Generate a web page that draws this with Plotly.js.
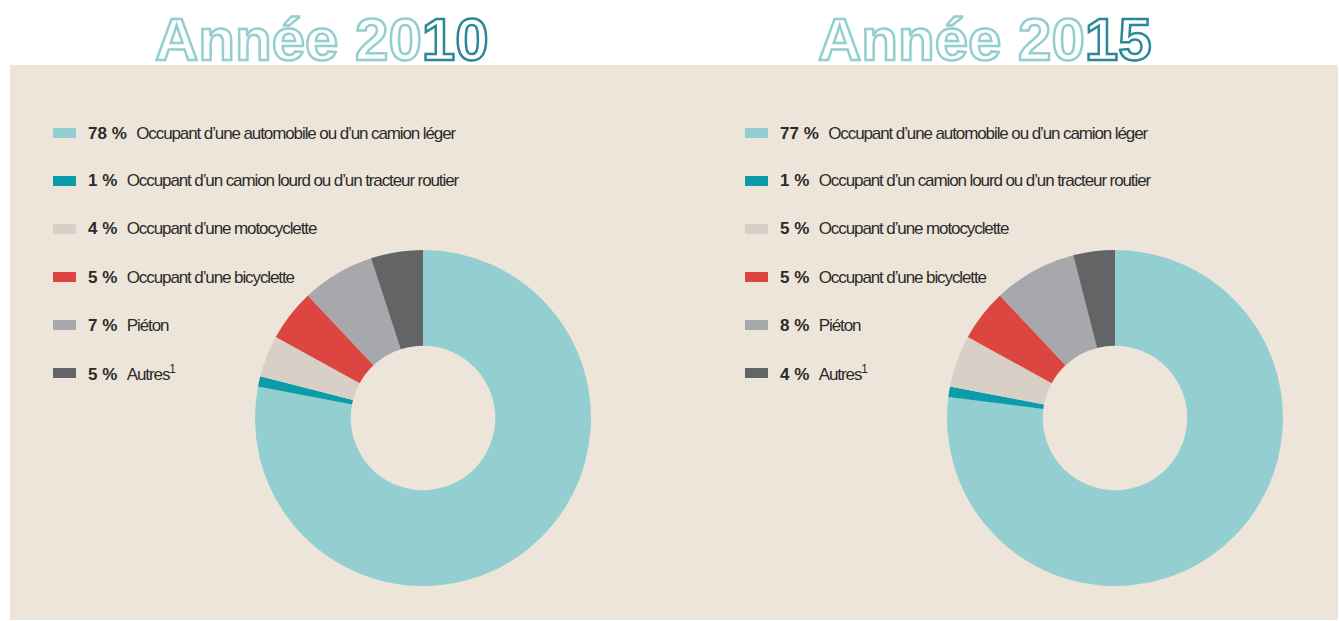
<!DOCTYPE html>
<html><head><meta charset="utf-8">
<script src="https://cdn.plot.ly/plotly-3.0.1.min.js"></script>
<style>html,body{margin:0;padding:0;background:#fff;}</style>
</head><body>
<div id="chart" style="width:1339px;height:621px;"></div>
<script>
const categories = [
  "Occupant d’une automobile ou d’un camion léger",
  "Occupant d’un camion lourd ou d’un tracteur routier",
  "Occupant d’une motocyclette",
  "Occupant d’une bicyclette",
  "Piéton",
  "Autres<sup>1</sup>"
];
const values2010 = [78, 1, 4, 5, 7, 5];
const values2015 = [77, 1, 5, 5, 8, 4];
const years = ["2010", "2015"];
const colors = ["#93cfd0", "#0a9ca8", "#d8cfc6", "#dc4540", "#a7a8ac", "#636466"];

const W = 1339, H = 621;
const px = x => x / W;
const py = y => 1 - y / H;

const panels = [
  {vals: values2010, year: years[0], cx: 423, cy: 418, legX: 53, titleX: 322},
  {vals: values2015, year: years[1], cx: 1115, cy: 418, legX: 745, titleX: 985}
];
const R = 168;

const data = panels.map(p => ({
  type: 'pie',
  values: p.vals,
  labels: categories,
  marker: {colors: colors, line: {width: 0}},
  hole: 0.43,
  sort: false,
  direction: 'clockwise',
  rotation: 0,
  textinfo: 'none',
  hoverinfo: 'label+percent',
  showlegend: false,
  domain: {x: [px(p.cx - R), px(p.cx + R)], y: [py(p.cy + R), py(p.cy - R)]}
}));

const shapes = [{
  type: 'rect', xref: 'paper', yref: 'paper', layer: 'below',
  x0: px(10), x1: px(1338), y0: py(620), y1: py(65),
  fillcolor: '#ede5da', line: {width: 0}
}];
const annotations = [];
panels.forEach(p => {
  p.vals.forEach((v, i) => {
    const yc = 133 + i * 48;
    shapes.push({
      type: 'rect', xref: 'paper', yref: 'paper',
      x0: px(p.legX), x1: px(p.legX + 23), y0: py(yc + 5), y1: py(yc - 5),
      fillcolor: colors[i], line: {width: 0}
    });
    annotations.push({
      xref: 'paper', yref: 'paper', x: px(p.legX + 33), y: py(yc),
      xanchor: 'left', yanchor: 'middle', showarrow: false,
      text: '<b>' + v + ' %</b>  <span style="letter-spacing:-1.1px">' + categories[i] + '</span>',
      font: {family: '"Liberation Sans", Arial, sans-serif', size: 17, color: '#2b2b2b'}
    });
  });
  const t = 'Année ' + p.year;
  annotations.push({
    xref: 'paper', yref: 'paper', x: px(p.titleX), y: py(40),
    xanchor: 'center', yanchor: 'middle', showarrow: false,
    text: '<span style="fill:#ffffff;stroke:#93cfd0;stroke-width:2.5px">' + t.slice(0, 8) +
          '</span><span style="fill:#ffffff;stroke:#2a8898;stroke-width:2.5px">' + t.slice(8) + '</span>',
    font: {family: '"Liberation Sans", Arial, sans-serif', size: 60, color: '#ffffff', weight: 'bold'}
  });
});

const layout = {
  width: W, height: H,
  margin: {l: 0, r: 0, t: 0, b: 0},
  paper_bgcolor: '#ffffff',
  showlegend: false,
  shapes: shapes,
  annotations: annotations
};
Plotly.newPlot('chart', data, layout, {displayModeBar: false, staticPlot: false});
</script>
</body></html>
